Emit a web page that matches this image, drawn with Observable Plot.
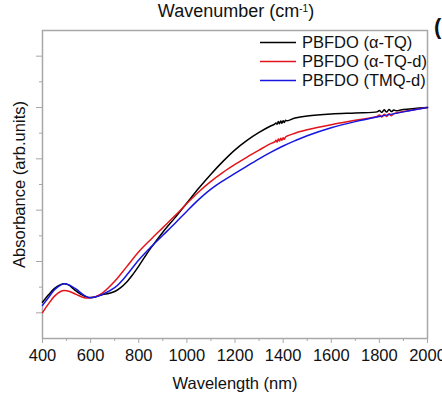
<!DOCTYPE html>
<html><head><meta charset="utf-8">
<script src="https://cdn.jsdelivr.net/npm/d3@7"></script>
<script src="https://cdn.jsdelivr.net/npm/@observablehq/plot@0.6"></script>
<style>body{margin:0;background:#fff} svg{display:block}</style>
</head><body><div id="chart"></div>
<script>
const seriesNames = ["PBFDO (α-TQ)", "PBFDO (α-TQ-d)", "PBFDO (TMQ-d)"];
const seriesColors = ["#000000", "#e3141b", "#1616e0"];

const wlBlack = [400,425,450,475,490,510,530,560,590,620,650,675,700,725,750,775,800,825,850,900,950,1000,1050,1100,1150,1200,1250,1300,1350,1365,1370,1375,1380,1385,1390,1395,1400,1405,1410,1415,1450,1500,1600,1700,1790,1800,1810,1820,1830,1840,1850,1860,1870,1900,2000];
const absBlack = [0.141,0.170,0.195,0.210,0.213,0.208,0.192,0.172,0.160,0.162,0.171,0.175,0.183,0.198,0.220,0.249,0.282,0.318,0.352,0.414,0.470,0.528,0.586,0.640,0.690,0.735,0.772,0.803,0.829,0.835,0.840,0.835,0.845,0.837,0.847,0.839,0.848,0.842,0.850,0.848,0.859,0.867,0.875,0.879,0.883,0.888,0.881,0.891,0.882,0.892,0.884,0.890,0.887,0.892,0.900];

const wlRed = [400,425,450,475,490,510,540,570,590,620,650,700,750,800,850,900,950,1000,1050,1100,1150,1200,1250,1300,1350,1365,1370,1375,1380,1385,1390,1395,1400,1405,1410,1450,1500,1600,1700,1790,1800,1810,1820,1830,1840,1850,1860,1900,2000];
const absRed = [0.101,0.135,0.165,0.183,0.187,0.184,0.172,0.160,0.158,0.163,0.178,0.223,0.280,0.338,0.386,0.432,0.478,0.526,0.572,0.612,0.647,0.678,0.707,0.734,0.760,0.766,0.772,0.765,0.777,0.769,0.780,0.772,0.782,0.776,0.785,0.800,0.813,0.833,0.850,0.865,0.871,0.863,0.874,0.865,0.876,0.868,0.876,0.884,0.900];

const wlBlue = [400,425,450,475,490,510,540,570,595,620,650,700,725,750,800,850,900,950,1000,1050,1100,1150,1200,1250,1300,1350,1400,1450,1500,1600,1700,1800,1900,2000];
const absBlue = [0.129,0.160,0.190,0.208,0.213,0.209,0.192,0.170,0.159,0.162,0.172,0.198,0.220,0.247,0.306,0.356,0.402,0.448,0.496,0.542,0.582,0.614,0.643,0.672,0.700,0.726,0.750,0.771,0.790,0.821,0.845,0.865,0.883,0.900];

const xMajorTicks = [400,600,800,1000,1200,1400,1600,1800,2000];
const xMinorTicks = [500,700,900,1100,1300,1500,1700,1900];
const yMajorTicks = [0.1,0.3,0.5,0.7,0.9,1.1];
const yMinorTicks = [0.2,0.4,0.6,0.8,1.0];

const xLabel = "Wavelength (nm)";
const yLabel = "Absorbance (arb.units)";
const topLabel = "Wavenumber (cm";
const topSup = "-1";
const panelMark = "(";

const series = [[wlBlack, absBlack], [wlRed, absRed], [wlBlue, absBlue]];
const rows = [];
series.forEach(([xs, ys], i) => xs.forEach((x, j) => rows.push({wl: x, a: ys[j], s: seriesNames[i]})));

const axisGray = "#a8a8a8";
const fs = 16.5;
const chart = Plot.plot({
  width: 442, height: 398,
  marginLeft: 42, marginRight: 15, marginTop: 30, marginBottom: 60,
  style: {fontFamily: "'Liberation Sans', Arial, sans-serif", fontSize: fs + "px", background: "#fff"},
  x: {domain: [400, 2000]},
  y: {domain: [0, 1.2]},
  color: {domain: seriesNames, range: seriesColors},
  marks: [
    Plot.frame({stroke: axisGray, strokeWidth: 1.5}),
    Plot.axisX({ticks: xMajorTicks, tickSize: 5, tickPadding: 6, stroke: axisGray, fill: "#111", fontSize: fs, tickFormat: d => String(d),
      label: xLabel, labelAnchor: "center", labelArrow: "none", labelOffset: 50}),
    Plot.axisX({ticks: xMinorTicks, tickSize: 3, stroke: axisGray, tickFormat: () => "", label: null}),
    Plot.axisY({ticks: yMajorTicks, tickSize: 6, stroke: axisGray, fill: "#111", fontSize: fs, tickFormat: () => "",
      label: yLabel, labelAnchor: "center", labelArrow: "none", labelOffset: 29}),
    Plot.axisY({ticks: yMinorTicks, tickSize: 3, stroke: axisGray, tickFormat: () => "", label: null}),
    Plot.line(rows, {x: "wl", y: "a", z: "s", stroke: "s", strokeWidth: 1.5, curve: "catmull-rom"})
  ]
});
document.getElementById("chart").appendChild(chart);

const svg = d3.select(chart);
const t = svg.append("text").attr("x", 236).attr("y", 17).attr("text-anchor", "middle")
  .attr("font-size", "18px").attr("fill", "#111").text(topLabel);
t.append("tspan").attr("font-size", "10px").attr("dy", -5).text(topSup);
t.append("tspan").attr("dy", 5).text(")");
svg.append("text").attr("x", 434).attr("y", 34).attr("text-anchor", "start").attr("font-size", "22px").attr("font-weight", "bold")
  .attr("fill", "#111").text(panelMark);
const lg = svg.append("g");
seriesNames.forEach((n, i) => {
  const y = 42.5 + i * 19;
  lg.append("line").attr("x1", 260).attr("x2", 296).attr("y1", y).attr("y2", y)
    .attr("stroke", seriesColors[i]).attr("stroke-width", 1.5);
  lg.append("text").attr("x", 302).attr("y", y).attr("dy", "0.35em").attr("text-anchor", "start")
    .attr("font-size", fs + "px").attr("fill", "#111").text(n);
});
</script></body></html>
